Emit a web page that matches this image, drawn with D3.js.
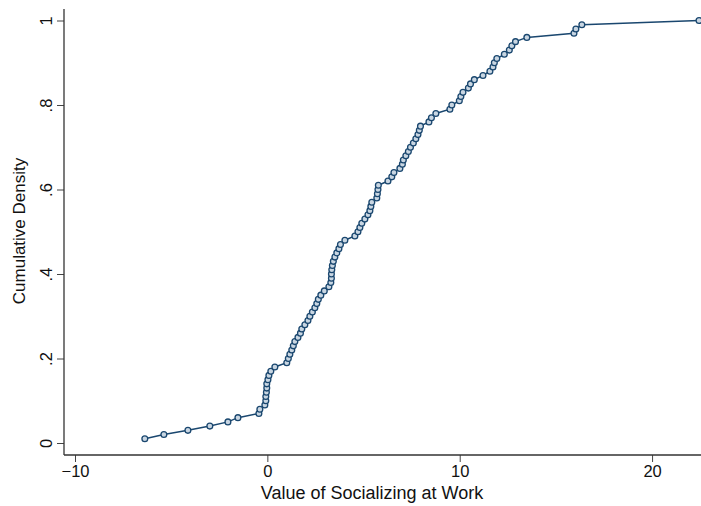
<!DOCTYPE html>
<html lang="en">
<head>
<meta charset="utf-8">
<title>Cumulative density - socializing at work</title>
<script src="https://d3js.org/d3.v7.min.js"></script>
<style>
  body { margin: 0; background: #fff; }
  svg { display: block; font-family: 'Liberation Sans', Arial, Helvetica, sans-serif; }
</style>
</head>
<body>
<script>
// sorted values of socializing at work (x) and cumulative density (y)
const socialValues = [
  -6.37, -5.38, -4.13, -2.99, -2.05, -1.53, -0.44, -0.39, -0.13, -0.08,
  -0.08, -0.05, -0.03, -0.03, 0.03, 0.08, 0.18, 0.39, 1.01, 1.09,
  1.17, 1.27, 1.35, 1.43, 1.59, 1.72, 1.79, 1.95, 2.11, 2.21,
  2.34, 2.47, 2.57, 2.65, 2.78, 2.96, 3.20, 3.30, 3.33, 3.33,
  3.35, 3.38, 3.43, 3.51, 3.61, 3.72, 3.80, 4.03, 4.55, 4.71,
  4.81, 4.91, 5.07, 5.23, 5.33, 5.38, 5.43, 5.69, 5.72, 5.75,
  5.77, 6.27, 6.47, 6.58, 6.89, 7.02, 7.07, 7.20, 7.33, 7.44,
  7.59, 7.72, 7.83, 7.90, 7.96, 8.40, 8.53, 8.76, 9.49, 9.59,
  9.98, 10.06, 10.17, 10.45, 10.56, 10.76, 11.21, 11.57, 11.73, 11.80,
  11.93, 12.32, 12.58, 12.71, 12.90, 13.49, 15.94, 16.04, 16.35, 22.44
];
const cumDensity = [
  0.01, 0.02, 0.03, 0.04, 0.05, 0.06, 0.07, 0.08, 0.09, 0.10,
  0.11, 0.12, 0.13, 0.14, 0.15, 0.16, 0.17, 0.18, 0.19, 0.20,
  0.21, 0.22, 0.23, 0.24, 0.25, 0.26, 0.27, 0.28, 0.29, 0.30,
  0.31, 0.32, 0.33, 0.34, 0.35, 0.36, 0.37, 0.38, 0.39, 0.40,
  0.41, 0.42, 0.43, 0.44, 0.45, 0.46, 0.47, 0.48, 0.49, 0.50,
  0.51, 0.52, 0.53, 0.54, 0.55, 0.56, 0.57, 0.58, 0.59, 0.60,
  0.61, 0.62, 0.63, 0.64, 0.65, 0.66, 0.67, 0.68, 0.69, 0.70,
  0.71, 0.72, 0.73, 0.74, 0.75, 0.76, 0.77, 0.78, 0.79, 0.80,
  0.81, 0.82, 0.83, 0.84, 0.85, 0.86, 0.87, 0.88, 0.89, 0.90,
  0.91, 0.92, 0.93, 0.94, 0.95, 0.96, 0.97, 0.98, 0.99, 1.00
];
const xTicks = [-10, 0, 10, 20];
const xTickLabels = ["\u221210", "0", "10", "20"];
const yTicks = [0, 0.2, 0.4, 0.6, 0.8, 1];
const yTickLabels = ["0", ".2", ".4", ".6", ".8", "1"];

const w = 701, h = 506;
const navy = "#1a476f";

const data = socialValues.map((v, i) => ({x: v, y: cumDensity[i]}));

const x = d3.scaleLinear().domain([-10, 22.44]).range([75, 699]);
const y = d3.scaleLinear().domain([0, 1]).range([443, 20.5]);

const svg = d3.select("body").append("svg")
    .attr("width", w)
    .attr("height", h);

// axes lines (Stata style: offset from the plot region)
const axisX = 64, axisY = 455;

const gx = svg.append("g").attr("transform", `translate(0,${axisY})`);
gx.call(d3.axisBottom(x).tickValues(xTicks).tickFormat((d, i) => xTickLabels[i])
        .tickSize(7).tickPadding(3));
gx.select(".domain").remove();
gx.append("line")
  .attr("x1", axisX).attr("x2", w).attr("y1", 0).attr("y2", 0)
  .attr("stroke", "#333").attr("stroke-width", 1.3);
gx.selectAll(".tick line").attr("stroke", "#444");
gx.selectAll(".tick text")
  .attr("font-size", 16.5).attr("fill", "#111")
  .attr("font-family", "'Liberation Sans', Arial, sans-serif");

const gy = svg.append("g").attr("transform", `translate(${axisX},0)`);
gy.call(d3.axisLeft(y).tickValues(yTicks).tickFormat((d, i) => yTickLabels[i])
        .tickSize(7).tickPadding(0));
gy.select(".domain").remove();
gy.append("line")
  .attr("x1", 0).attr("x2", 0).attr("y1", 9).attr("y2", axisY)
  .attr("stroke", "#333").attr("stroke-width", 1.3);
gy.selectAll(".tick line").attr("stroke", "#444");
gy.selectAll(".tick text")
  .attr("font-size", 16.5).attr("fill", "#111")
  .attr("font-family", "'Liberation Sans', Arial, sans-serif")
  .attr("text-anchor", "middle")
  .attr("dy", null)
  .attr("x", null)
  .attr("transform", "translate(-16,0) rotate(-90)")
  .attr("dominant-baseline", "middle");

// axis titles
svg.append("text")
  .attr("x", 372).attr("y", 499)
  .attr("text-anchor", "middle")
  .attr("font-size", 18).attr("fill", "#111")
  .text("Value of Socializing at Work");

svg.append("text")
  .attr("transform", "translate(25,231) rotate(-90)")
  .attr("text-anchor", "middle")
  .attr("font-size", 17).attr("fill", "#111")
  .text("Cumulative Density");

// connected line + hollow markers
const line = d3.line().x(d => x(d.x)).y(d => y(d.y));
svg.append("path")
  .datum(data)
  .attr("d", line)
  .attr("fill", "none")
  .attr("stroke", navy)
  .attr("stroke-width", 1.5);

svg.selectAll("circle.pt")
  .data(data)
  .enter()
  .append("circle")
  .attr("class", "pt")
  .attr("cx", d => x(d.x))
  .attr("cy", d => y(d.y))
  .attr("r", 2.9)
  .attr("fill", "#c9d6e2")
  .attr("stroke", navy)
  .attr("stroke-width", 1.3);
</script>
</body>
</html>
